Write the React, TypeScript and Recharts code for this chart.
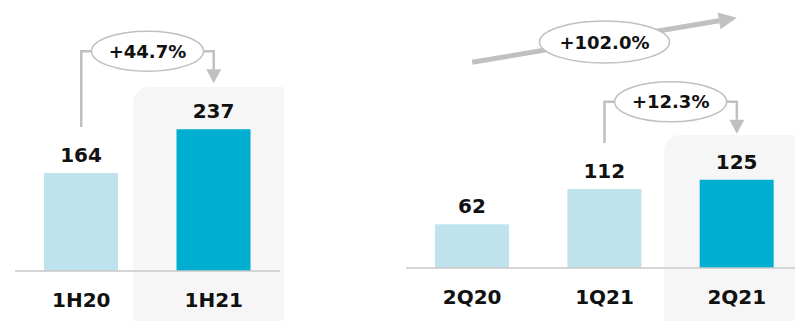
import React from "react";
import { BarChart, Bar, XAxis, YAxis, Cell, LabelList, ReferenceLine } from "recharts";

// half-year panel
const halfCats = ["1H20", "1H21"];
const halfValues = [164, 237];
const halfGrowth = "+44.7%";

// quarter panel
const quarterCats = ["2Q20", "1Q21", "2Q21"];
const quarterValues = [62, 112, 125];
const quarterYoY = "+102.0%";
const quarterQoQ = "+12.3%";

const halfData = halfCats.map((name, i) => ({ name, value: halfValues[i] }));
const quarterData = quarterCats.map((name, i) => ({ name, value: quarterValues[i] }));

const LIGHT = "#bfe3ec";
const DARK = "#00aecf";
const GREY = "#c0c0c0";
const FONT = "DejaVu Sans";

const Tick = ({ x, y, payload }: any) => (
  <text x={x} y={y + 36} textAnchor="middle" fontFamily={FONT} fontWeight="bold" fontSize={20} fill="#111">
    {payload.value}
  </text>
);

const Badge = ({ cx, cy, rx, ry, text }: any) => (
  <g>
    <ellipse cx={cx} cy={cy} rx={rx} ry={ry} fill="#fff" stroke={GREY} strokeWidth={1.5} />
    <text x={cx} y={cy} dy="0.36em" textAnchor="middle" fontFamily={FONT} fontWeight="bold" fontSize={18} fill="#111">
      {text}
    </text>
  </g>
);

// bracket from one bar top to another, arrow pointing down on the second
const Bracket = ({ x1, y1, x2, y2, text }: any) => {
  const gap = 46;
  const top = Math.min(y1, y2) - 78;
  const tip = y2 - gap;
  const mid = (x1 + x2) / 2;
  return (
    <g>
      <polyline
        points={`${x1},${y1 - gap} ${x1},${top} ${x2},${top} ${x2},${tip - 14}`}
        fill="none"
        stroke={GREY}
        strokeWidth={2.5}
      />
      <polygon points={`${x2 - 7.5},${tip - 14} ${x2 + 7.5},${tip - 14} ${x2},${tip}`} fill={GREY} />
      <Badge cx={mid} cy={top} rx={56} ry={20} text={text} />
    </g>
  );
};

// thick trend arrow running parallel to the bar tops
const Trend = ({ x1, y1, x2, y2, text }: any) => {
  const lift = 162;
  const sx = x1, sy = y1 - lift, ex = x2, ey = y2 - lift;
  const a = Math.atan2(ey - sy, ex - sx);
  const len = 18, half = 8.5;
  const bx = ex - len * Math.cos(a), by = ey - len * Math.sin(a);
  const px = -Math.sin(a) * half, py = Math.cos(a) * half;
  return (
    <g>
      <line x1={sx} y1={sy} x2={bx} y2={by} stroke={GREY} strokeWidth={5} />
      <polygon points={`${ex},${ey} ${bx + px},${by + py} ${bx - px},${by - py}`} fill={GREY} />
      <Badge cx={(sx + ex) / 2} cy={(sy + ey) / 2 + 2} rx={65} ry={21} text={text} />
    </g>
  );
};

export default function App() {
  return (
    <div style={{ position: "relative", width: 803, height: 329, margin: -8, overflow: "hidden", background: "#fff" }}>
      <div
        style={{
          position: "absolute", left: 133, top: 87, width: 151, height: 240,
          background: "#f6f6f6", borderTopLeftRadius: 16, borderBottomRightRadius: 10,
        }}
      />
      <div
        style={{
          position: "absolute", left: 664, top: 135, width: 139, height: 192,
          background: "#f6f6f6", borderTopLeftRadius: 16, borderBottomRightRadius: 10,
        }}
      />

      <div style={{ position: "absolute", left: 0, top: 0 }}>
        <BarChart width={290} height={329} data={halfData} margin={{ top: 0, right: 10, left: 15, bottom: 0 }}>
          <XAxis
            dataKey="name"
            height={58}
            tickLine={false}
            tickSize={0}
            tickMargin={0}
            tick={<Tick />}
            axisLine={{ stroke: "#c8c8c8", strokeWidth: 1.5 }}
          />
          <YAxis hide domain={[0, 453]} />
          <Bar dataKey="value" barSize={74} isAnimationActive={false}>
            {halfData.map((d, i) => (
              <Cell key={d.name} fill={i === halfData.length - 1 ? DARK : LIGHT} />
            ))}
            <LabelList dataKey="value" position="top" offset={11} fill="#111" fontSize={20} fontWeight="bold" fontFamily={FONT} />
          </Bar>
          <ReferenceLine
            segment={[{ x: halfCats[0], y: halfValues[0] }, { x: halfCats[1], y: halfValues[1] }]}
            shape={(p: any) => <Bracket {...p} text={halfGrowth} />}
          />
        </BarChart>
      </div>

      <div style={{ position: "absolute", left: 400, top: 0 }}>
        <BarChart width={403} height={329} data={quarterData} margin={{ top: 0, right: 0, left: 6, bottom: 0 }}>
          <XAxis
            dataKey="name"
            height={61}
            tickLine={false}
            tickSize={0}
            tickMargin={0}
            tick={<Tick />}
            axisLine={{ stroke: "#c8c8c8", strokeWidth: 1.5 }}
          />
          <YAxis hide domain={[0, 380]} />
          <Bar dataKey="value" barSize={74} isAnimationActive={false}>
            {quarterData.map((d, i) => (
              <Cell key={d.name} fill={i === quarterData.length - 1 ? DARK : LIGHT} />
            ))}
            <LabelList dataKey="value" position="top" offset={11} fill="#111" fontSize={20} fontWeight="bold" fontFamily={FONT} />
          </Bar>
          <ReferenceLine
            segment={[{ x: quarterCats[0], y: quarterValues[0] }, { x: quarterCats[2], y: quarterValues[2] }]}
            shape={(p: any) => <Trend {...p} text={quarterYoY} />}
          />
          <ReferenceLine
            segment={[{ x: quarterCats[1], y: quarterValues[1] }, { x: quarterCats[2], y: quarterValues[2] }]}
            shape={(p: any) => <Bracket {...p} text={quarterQoQ} />}
          />
        </BarChart>
      </div>
    </div>
  );
}
